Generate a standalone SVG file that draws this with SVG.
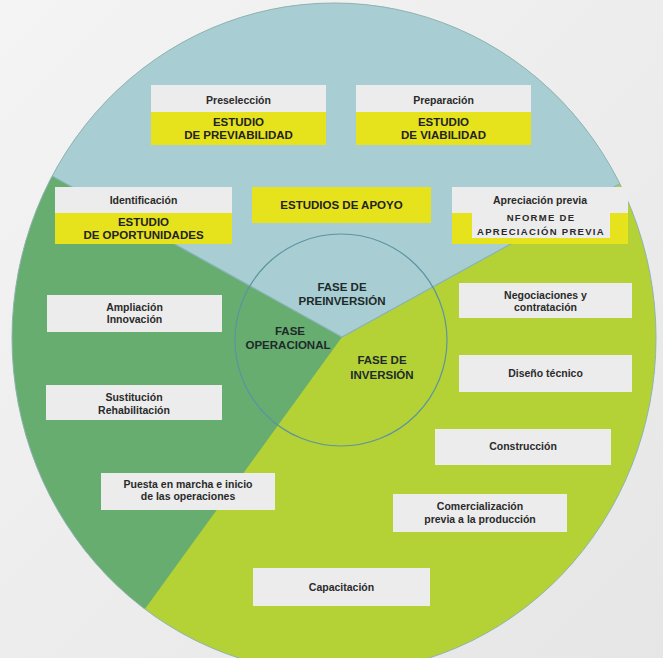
<svg xmlns="http://www.w3.org/2000/svg" width="663" height="658" viewBox="0 0 663 658">
<defs>
<clipPath id="disc"><ellipse cx="334" cy="338" rx="322" ry="335"/></clipPath>
<linearGradient id="bg" x1="0" y1="0" x2="1" y2="1">
<stop offset="0" stop-color="#f4f4f4"/><stop offset="1" stop-color="#e6e6e6"/>
</linearGradient>
<style>
.box{fill:#ececec}
.yel{fill:#e6e21c}
.t{font-family:"Liberation Sans",Arial,sans-serif;font-weight:bold;font-size:10.5px;fill:#2a2a2a;text-anchor:middle}
.c{font-family:"Liberation Sans",Arial,sans-serif;font-weight:bold;font-size:11.5px;fill:#222;text-anchor:middle}
.sp{font-family:"Liberation Sans",Arial,sans-serif;font-weight:bold;font-size:9.5px;fill:#2a2a2a;text-anchor:middle;letter-spacing:1.3px}
.f{font-family:"Liberation Sans",Arial,sans-serif;font-weight:bold;font-size:11.5px;fill:#1e2a2a;text-anchor:middle}
</style>
</defs>
<rect width="663" height="658" fill="url(#bg)"/>
<g id="sectors">
<ellipse cx="334" cy="338" rx="322" ry="335" fill="#b4d236"/>
<g clip-path="url(#disc)">
<polygon points="342,337 0,147 0,700 79,700" fill="#67ad6f"/>
<polygon points="342,337 0,147 0,0 663,0 663,160" fill="#a8ced3"/>
<polyline points="0,147 342,337 663,160" fill="none" stroke="#86b3b8" stroke-width="1.2"/>
</g>
<ellipse cx="334" cy="338" rx="322" ry="335" fill="none" stroke="#8fb3b6" stroke-width="1"/>
<circle cx="341" cy="340" r="106" fill="none" stroke="#5d93a2" stroke-width="1.2"/>
</g>
<g id="fase-preinversion"><text class="f" x="342" y="291">FASE DE</text><text class="f" x="342" y="305">PREINVERSIÓN</text></g>
<g id="fase-operacional"><text class="f" x="290" y="335">FASE</text><text class="f" x="288" y="349">OPERACIONAL</text></g>
<g id="fase-inversion"><text class="f" x="382" y="364">FASE DE</text><text class="f" x="382" y="379">INVERSIÓN</text></g>
<g id="preseleccion">
<rect class="box" x="151" y="85" width="175" height="60"/><rect class="yel" x="151" y="112" width="175" height="33"/>
<text class="t" x="238.5" y="104">Preselección</text>
<text class="c" x="238.5" y="126">ESTUDIO</text><text class="c" x="238.5" y="139">DE PREVIABILIDAD</text>
</g>
<g id="preparacion">
<rect class="box" x="356" y="85" width="175" height="60"/><rect class="yel" x="356" y="112" width="175" height="33"/>
<text class="t" x="443.5" y="104">Preparación</text>
<text class="c" x="443.5" y="126">ESTUDIO</text><text class="c" x="443.5" y="139">DE VIABILIDAD</text>
</g>
<g id="identificacion">
<rect class="box" x="55" y="187" width="177" height="57"/><rect class="yel" x="55" y="213" width="177" height="31"/>
<text class="t" x="143.5" y="204">Identificación</text>
<text class="c" x="143.5" y="226">ESTUDIO</text><text class="c" x="143.5" y="239">DE OPORTUNIDADES</text>
</g>
<g id="estudios-apoyo">
<rect class="yel" x="252" y="187" width="179" height="36"/>
<text class="c" x="341.5" y="209">ESTUDIOS DE APOYO</text>
</g>
<g id="apreciacion">
<rect class="box" x="452" y="187" width="176" height="57"/><rect class="yel" x="452" y="213" width="176" height="31"/>
<rect class="box" x="472" y="207" width="138" height="31"/>
<text class="t" x="540" y="204">Apreciación previa</text>
<text class="sp" x="541" y="221">NFORME DE</text><text class="sp" x="541" y="235">APRECIACIÓN PREVIA</text>
</g>
<g id="ampliacion">
<rect class="box" x="47" y="295" width="175" height="37"/>
<text class="t" x="134.5" y="311">Ampliación</text><text class="t" x="134.5" y="323">Innovación</text>
</g>
<g id="negociaciones">
<rect class="box" x="459" y="283" width="173" height="35"/>
<text class="t" x="545.5" y="299">Negociaciones y</text><text class="t" x="545.5" y="311">contratación</text>
</g>
<g id="diseno">
<rect class="box" x="459" y="355" width="173" height="37"/>
<text class="t" x="545.5" y="377">Diseño técnico</text>
</g>
<g id="sustitucion">
<rect class="box" x="46" y="385" width="176" height="35"/>
<text class="t" x="134" y="401">Sustitución</text><text class="t" x="134" y="414">Rehabilitación</text>
</g>
<g id="construccion">
<rect class="box" x="435" y="429" width="176" height="36"/>
<text class="t" x="523" y="450">Construcción</text>
</g>
<g id="puesta">
<rect class="box" x="101" y="473" width="174" height="37"/>
<text class="t" x="188" y="488">Puesta en marcha e inicio</text><text class="t" x="188" y="500">de las operaciones</text>
</g>
<g id="comercializacion">
<rect class="box" x="393" y="494" width="174" height="38"/>
<text class="t" x="480" y="510">Comercialización</text><text class="t" x="480" y="523">previa a la producción</text>
</g>
<g id="capacitacion">
<rect class="box" x="253" y="568" width="177" height="38"/>
<text class="t" x="341.5" y="591">Capacitación</text>
</g>
</svg>
